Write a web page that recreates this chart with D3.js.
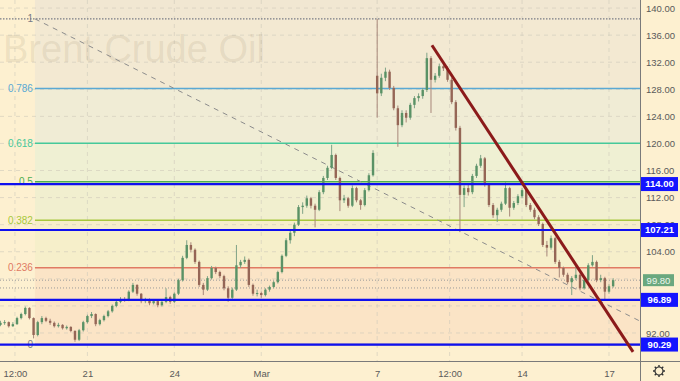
<!DOCTYPE html>
<html>
<head>
<meta charset="utf-8">
<script src="https://cdnjs.cloudflare.com/ajax/libs/d3/7.8.5/d3.min.js"></script>
<style>
  body { margin: 0; background: #fdf0d0; }
  svg { display: block; }
</style>
</head>
<body>
<svg id="chart" width="680" height="381"></svg>
<script>
// candles, 7 per trading day, [open, high, low, close]
var candles = [
  [93.2,93.8,93.0,93.5],[93.5,93.9,93.2,93.6],[93.6,93.7,92.8,93.0],[93.0,93.6,92.9,93.3],
  [93.3,94.4,93.2,94.2],[94.2,95.0,94.0,94.8],[94.8,95.9,94.6,95.7],[95.7,95.8,94.0,94.2],
  [94.2,94.3,91.2,91.7],[91.7,93.8,91.5,93.6],[93.6,94.5,93.3,94.2],[94.2,94.4,93.6,93.8],
  [93.8,94.1,93.2,93.5],[93.5,93.7,92.8,93.0],[93.0,93.5,92.8,93.2],[93.2,93.3,92.5,92.7],
  [92.7,93.1,92.5,92.9],[92.9,93.0,92.1,92.3],[92.3,92.4,90.7,91.0],[91.0,92.6,90.8,92.4],
  [92.4,93.8,92.2,93.6],[93.6,94.7,93.4,94.5],[94.5,95.1,94.2,94.8],[94.8,94.9,93.0,93.3],
  [93.3,94.1,93.1,93.9],[93.9,94.7,93.7,94.5],[94.5,95.4,94.3,95.2],[95.2,96.2,95.0,96.0],
  [96.0,96.8,95.8,96.6],[96.6,97.3,96.4,97.0],[97.0,97.3,96.6,96.8],[96.8,98.3,96.7,98.1],
  [98.1,99.4,97.9,99.1],[99.1,99.2,97.5,97.8],[97.8,97.9,96.4,96.7],[96.7,97.2,96.4,96.9],
  [96.9,97.1,96.1,96.4],[96.4,97.0,96.2,96.7],[96.7,96.8,95.8,96.1],[96.1,96.8,95.9,96.6],
  [96.6,98.6,96.4,97.3],[97.3,97.5,96.3,96.6],[96.6,98.0,96.4,97.8],[97.8,100.0,97.6,99.8],
  [99.8,103.4,99.6,103.1],[103.1,105.7,102.9,105.0],[105.0,105.4,103.9,104.3],[104.3,104.5,102.2,102.5],
  [102.5,102.7,98.8,99.1],[99.1,99.4,97.6,98.4],[98.4,100.4,98.2,100.1],[100.1,101.9,99.9,101.6],
  [101.6,101.8,100.7,101.0],[101.0,101.2,100.1,100.4],[100.4,100.6,98.3,98.6],[98.6,98.9,96.6,97.2],
  [97.2,98.7,97.0,98.4],[98.4,105.0,98.2,102.0],[102.0,102.8,101.6,102.5],[102.5,103.3,102.2,102.8],
  [102.8,103.0,98.8,99.1],[99.1,99.3,97.5,97.8],[97.8,98.4,97.4,97.9],[97.9,98.1,97.2,97.6],
  [97.6,98.6,97.4,98.4],[98.4,99.0,98.1,98.8],[98.8,99.7,98.6,99.5],[99.5,101.2,99.3,101.0],
  [101.0,103.6,100.8,103.4],[103.4,106.0,103.2,105.7],[105.7,107.1,105.2,106.8],[106.8,108.3,106.3,108.0],
  [108.0,110.9,107.8,110.6],[110.6,111.3,109.6,110.8],[110.8,112.3,110.5,111.9],[111.9,112.1,110.4,110.8],
  [110.8,111.1,107.6,110.2],[110.2,113.1,110.0,112.8],[112.8,115.2,112.5,114.9],[114.9,116.7,114.6,116.4],
  [116.4,119.8,116.2,118.3],[118.3,118.5,114.6,114.9],[114.9,115.1,110.0,111.6],[111.6,112.4,111.2,111.9],
  [111.9,112.1,110.5,110.8],[110.8,113.8,110.6,113.4],[113.4,113.6,111.3,111.6],[111.6,111.8,110.2,110.9],
  [110.9,113.4,110.7,113.1],[113.1,115.6,112.9,115.3],[115.3,119.0,115.1,118.6],
  [130.0,138.4,123.8,127.4],[127.4,130.3,127.0,129.7],[129.7,131.2,129.2,130.6],[130.6,130.9,127.9,128.2],
  [128.2,128.5,124.9,125.2],[125.2,125.6,119.5,122.7],[122.7,124.9,122.4,124.5],[124.5,124.9,123.1,123.8],
  [123.8,126.0,123.5,125.7],[125.7,127.0,125.2,126.7],[126.7,127.4,126.2,127.0],[127.0,128.2,126.6,127.9],
  [127.9,133.4,127.6,132.6],[132.6,132.9,124.5,129.4],[129.4,130.4,129.0,130.0],[130.0,131.8,129.7,131.4],
  [131.4,131.9,130.7,131.1],[131.1,131.4,129.1,129.4],[129.4,129.7,125.8,126.1],[126.1,126.4,121.9,122.3],
  [122.3,122.6,106.9,112.4],[112.4,113.8,110.6,113.4],[113.4,113.9,112.3,112.8],[112.8,115.5,112.5,115.2],
  [115.2,117.0,114.9,116.7],[116.7,118.3,116.4,117.8],[117.8,118.0,113.6,113.9],[113.9,114.1,110.6,110.9],
  [110.9,111.2,109.0,109.4],[109.4,110.5,108.4,110.2],[110.2,111.4,109.9,111.1],[111.1,114.3,110.9,113.4],
  [113.4,113.6,109.2,110.5],[110.5,111.5,110.2,111.2],[111.2,112.5,110.9,112.2],[112.2,113.4,111.9,113.1],
  [113.1,113.3,110.6,110.9],[110.9,111.2,109.9,110.2],[110.2,110.5,108.8,109.1],[109.1,109.4,107.8,108.1],
  [108.1,108.3,104.7,105.0],[105.0,105.6,103.3,104.6],[104.6,106.4,104.3,106.0],[106.0,106.2,102.2,102.5],
  [102.5,102.8,100.2,101.6],[101.6,101.8,100.3,100.6],[100.6,100.9,99.2,99.5],[99.5,100.4,97.6,100.1],
  [100.1,101.9,99.8,100.6],[100.6,100.8,98.3,98.6],[98.6,100.1,98.4,99.8],[99.8,102.3,99.6,102.0],
  [102.0,103.5,101.8,102.5],[102.5,102.7,99.5,99.8],[99.8,100.6,99.5,100.1],[100.1,100.3,96.9,98.1],
  [98.1,99.2,97.8,98.9],[98.9,100.1,98.7,99.8]
];
var firstDay = -3;      // trading day of first candle (0 = Feb 21)
var perDay = 7;

var tickDays = [-2.5, 0, 3, 6, 10, 12.5, 15, 18];
var tickLabels = ["12:00", "21", "24", "Mar", "7", "12:00", "14", "17"];
var priceTicks = [92, 96, 100, 104, 108, 112, 116, 120, 124, 128, 132, 136, 140];
// labels the price axis keeps once the level boxes take their place
var priceLabels = [92, 104, 108, 112, 116, 120, 124, 128, 132, 136, 140];

var fibLevels = [1, 0.786, 0.618, 0.5, 0.382, 0.236, 0];
var fibHigh = 138.4, fibLow = 90.29;
var fibStartDay = -1.81, fibEndDay = 20.69;

var levels = [114.00, 107.21, 96.89, 90.29];
var lastPrice = 99.80;
var prevPrice = 98.65;
var trendLine = [{day: 11.89, price: 134.5}, {day: 18.83, price: 89.2}];

var W = 680, H = 381, plotW = 640, plotH = 361;
var font = "Liberation Sans, Arial, sans-serif";
var svg = d3.select("#chart");

var x = d3.scaleLinear().domain([-3.016, 19.07]).range([0, plotW]);
var y = d3.scaleLinear().domain([87.86, 141.19]).range([plotH, 0]);
var fibPrice = function(l) { return fibLow + l * (fibHigh - fibLow); };
var fibX = x(fibStartDay);

var fibColors = ["#787b86", "#5aa9d4", "#45c99a", "#4caf50", "#a8c83c", "#e07a63", "#787b86"];
var bandFills = ["#f3e9d2", "#f0ecd5", "#eff0d3", "#f1efcf", "#f6efca", "#fbe4c6"];

svg.append("rect").attr("width", W).attr("height", H).attr("fill", "#fdf0d0");

var plot = svg.append("g");
plot.append("clipPath").attr("id", "clip")
  .append("rect").attr("width", plotW).attr("height", plotH);
var g = plot.append("g").attr("clip-path", "url(#clip)");

// fib bands
g.append("rect").attr("x", fibX).attr("y", 0).attr("width", plotW - fibX)
  .attr("height", y(fibHigh)).attr("fill", "#f1e7d2");
for (var i = 0; i < fibLevels.length - 1; i++) {
  g.append("rect")
    .attr("x", fibX).attr("y", y(fibPrice(fibLevels[i])))
    .attr("width", plotW - fibX)
    .attr("height", y(fibPrice(fibLevels[i + 1])) - y(fibPrice(fibLevels[i])))
    .attr("fill", bandFills[i]);
}

// grid
g.selectAll(".vg").data(tickDays).enter().append("line")
  .attr("x1", function(d) { return x(d); }).attr("x2", function(d) { return x(d); })
  .attr("y1", 0).attr("y2", plotH)
  .attr("stroke", "#cfcabb").attr("stroke-opacity", 0.6).attr("stroke-dasharray", "4,4");
g.selectAll(".hg").data(priceTicks).enter().append("line")
  .attr("x1", 0).attr("x2", plotW)
  .attr("y1", function(d) { return y(d); }).attr("y2", function(d) { return y(d); })
  .attr("stroke", "#cfcabb").attr("stroke-opacity", 0.6).attr("stroke-dasharray", "4,4");

// watermark
g.append("text").attr("x", 3).attr("y", 62)
  .attr("font-family", font).attr("font-size", 38)
  .attr("fill", "#8c7a5a").attr("fill-opacity", 0.14)
  .text("Brent Crude Oil");

// fib level lines
fibLevels.forEach(function(l, i) {
  var yy = y(fibPrice(l));
  g.append("line")
    .attr("x1", l === 1 ? 0 : fibX).attr("x2", plotW)
    .attr("y1", yy).attr("y2", yy)
    .attr("stroke", fibColors[i])
    .attr("stroke-width", l === 1 ? 1.2 : 1.5)
    .attr("stroke-dasharray", l === 1 ? "1.5,1.5" : null);
  g.append("text")
    .attr("x", fibX - 2).attr("y", yy).attr("dy", "0.35em")
    .attr("text-anchor", "end")
    .attr("font-family", font).attr("font-size", 10)
    .attr("fill", fibColors[i])
    .text(String(l));
});

// dotted price lines
[lastPrice, prevPrice].forEach(function(p) {
  g.append("line").attr("x1", 0).attr("x2", plotW)
    .attr("y1", y(p)).attr("y2", y(p))
    .attr("stroke", "#9a9a9a").attr("stroke-width", 1).attr("stroke-dasharray", "1,2");
});

// fib trend line
g.append("line")
  .attr("x1", x(fibStartDay)).attr("y1", y(fibHigh))
  .attr("x2", x(fibEndDay)).attr("y2", y(fibLow))
  .attr("stroke", "#8c8c8c").attr("stroke-width", 1).attr("stroke-dasharray", "5,5");

// candles
var cw = 2.4;
var cg = g.selectAll(".candle").data(candles).enter().append("g");
cg.append("line")
  .attr("x1", function(d, i) { return x(firstDay + i / perDay); })
  .attr("x2", function(d, i) { return x(firstDay + i / perDay); })
  .attr("y1", function(d) { return y(d[1]); })
  .attr("y2", function(d) { return y(d[2]); })
  .attr("stroke", function(d) { return d[3] >= d[0] ? "#7fa387" : "#a8877a"; })
  .attr("stroke-width", 1);
cg.append("rect")
  .attr("x", function(d, i) { return x(firstDay + i / perDay) - cw / 2; })
  .attr("y", function(d) { return y(Math.max(d[0], d[3])); })
  .attr("width", cw)
  .attr("height", function(d) { return Math.max(1, Math.abs(y(d[0]) - y(d[3]))); })
  .attr("fill", function(d) { return d[3] >= d[0] ? "#5a9266" : "#956656"; });

// horizontal levels
g.selectAll(".lvl").data(levels).enter().append("line")
  .attr("x1", 0).attr("x2", plotW)
  .attr("y1", function(d) { return y(d); }).attr("y2", function(d) { return y(d); })
  .attr("stroke", "#0f0fef").attr("stroke-width", 2.2);

// trend line
g.append("line")
  .attr("x1", x(trendLine[0].day)).attr("y1", y(trendLine[0].price))
  .attr("x2", x(trendLine[1].day)).attr("y2", y(trendLine[1].price))
  .attr("stroke", "#8b1a1a").attr("stroke-width", 3);

// axes frame
svg.append("line").attr("x1", plotW + 0.5).attr("x2", plotW + 0.5).attr("y1", 0).attr("y2", H)
  .attr("stroke", "#7a7a7a");
svg.append("line").attr("x1", 0).attr("x2", W).attr("y1", plotH + 0.5).attr("y2", plotH + 0.5)
  .attr("stroke", "#7a7a7a");

// price axis
var yAxis = d3.axisRight(y).tickValues(priceLabels).tickSize(0).tickPadding(6)
  .tickFormat(d3.format(".2f"));
var ya = svg.append("g").attr("transform", "translate(" + plotW + ",0)").call(yAxis);
ya.select(".domain").remove();
ya.selectAll("text").attr("font-family", font)
  .attr("font-size", 9.5).attr("fill", "#5a5a5a");

// time axis
var xAxis = d3.axisBottom(x).tickValues(tickDays).tickSize(0).tickPadding(9)
  .tickFormat(function(d, i) { return tickLabels[i]; });
var xa = svg.append("g").attr("transform", "translate(0," + plotH + ")").call(xAxis);
xa.select(".domain").remove();
xa.selectAll("text").attr("font-family", font)
  .attr("font-size", 9.5).attr("fill", "#5a5a5a");

// level labels on the price axis
levels.forEach(function(p) {
  svg.append("rect").attr("x", plotW + 1).attr("y", y(p) - 7).attr("width", 37).attr("height", 14)
    .attr("fill", "#1414ff");
  svg.append("text").attr("x", plotW + 19.5).attr("y", y(p)).attr("dy", "0.35em")
    .attr("text-anchor", "middle").attr("font-family", font)
    .attr("font-size", 9.5).attr("font-weight", "bold").attr("fill", "#fff")
    .text(d3.format(".2f")(p));
});
svg.append("rect").attr("x", plotW + 3).attr("y", y(lastPrice) - 6).attr("width", 31).attr("height", 12)
  .attr("fill", "#6aa87f");
svg.append("text").attr("x", plotW + 18.5).attr("y", y(lastPrice)).attr("dy", "0.35em")
  .attr("text-anchor", "middle").attr("font-family", font)
  .attr("font-size", 9.5).attr("fill", "#eef7ee")
  .text(d3.format(".2f")(lastPrice));

// settings gear
var gear = svg.append("g").attr("transform", "translate(659,371)");
gear.append("circle").attr("r", 4).attr("fill", "none").attr("stroke", "#333").attr("stroke-width", 1.2);
d3.range(8).forEach(function(k) {
  var a = k * Math.PI / 4;
  gear.append("line")
    .attr("x1", Math.cos(a) * 4).attr("y1", Math.sin(a) * 4)
    .attr("x2", Math.cos(a) * 6).attr("y2", Math.sin(a) * 6)
    .attr("stroke", "#333").attr("stroke-width", 1.4);
});
</script>
</body>
</html>
